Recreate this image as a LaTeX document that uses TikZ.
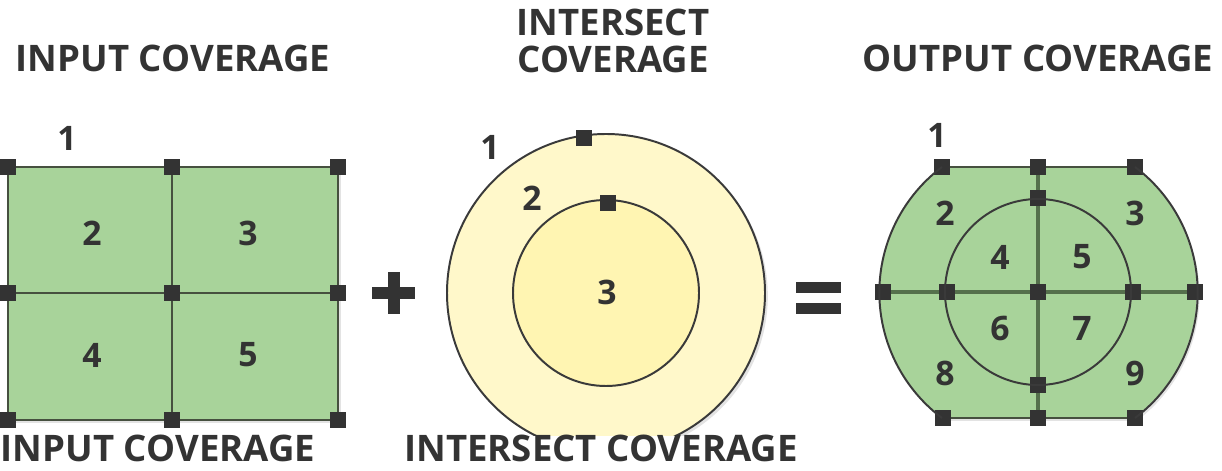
\documentclass[tikz,border=0pt]{standalone}
\usepackage{fontspec}
\setmainfont{Open Sans}
\usetikzlibrary{shadows}

\definecolor{polygreen}{HTML}{A8D39A}
\definecolor{ringyellow}{HTML}{FFF8CA}
\definecolor{coreyellow}{HTML}{FFF5B2}
\definecolor{inkgray}{HTML}{333333}
\definecolor{arcgray}{HTML}{3A3A3A}
\definecolor{gridgray}{HTML}{46503F}
\definecolor{crossgreen}{HTML}{55704C}

\tikzset{
  vtx/.style={inner sep=0, minimum size=0.39cm, rectangle, fill=inkgray},
  edge/.style={draw=gridgray, line width=2pt},
  ring/.style={draw=arcgray, line width=1.4pt},
  cross/.style={draw=crossgreen, line width=2.4pt},
  opbar/.style={draw=inkgray, line width=0.3cm},
  num/.style={font=\bfseries\fontsize{24}{24}\selectfont, text=inkgray},
  title/.style={font=\bfseries\fontsize{26}{26}\selectfont, text=inkgray, anchor=base, inner sep=0},
  shade/.style={drop shadow={opacity=0.22, shadow xshift=2pt, shadow yshift=-2pt}},
}

\begin{document}
\begin{tikzpicture}[x=0.025cm, y=-0.025cm]
  \useasboundingbox (0,0) rectangle (1222,471);

  % input coverage: 2x2 grid of polygons
  \fill[polygreen, shade] (8,167) rectangle (338,420);
  \foreach \x/\c in {8/1,172/2,338/3}
    \foreach \y/\r in {167/1,293/2,420/3}
      \node[vtx] (in-\c\r) at (\x,\y) {};
  \foreach \r in {1,2,3}
    \draw[edge] (in-1\r) -- (in-2\r) -- (in-3\r);
  \foreach \c in {1,2,3}
    \draw[edge] (in-\c1) -- (in-\c2) -- (in-\c3);

  \node[num] (in-l1) at (67,138) {1};
  \node[num] (in-l2) at (92,233) {2};
  \node[num] (in-l3) at (248,233) {3};
  \node[num] (in-l4) at (92,355) {4};
  \node[num] (in-l5) at (248,355) {5};

  % plus sign
  \draw[opbar] (372,293) -- (415,293);
  \draw[opbar] (393.5,272) -- (393.5,314);

  % intersect coverage: two rings
  \fill[ringyellow, shade] (606,293) circle[radius=159];
  \draw[ring] (606,293) circle[radius=159];
  \fill[coreyellow] (606,293) circle[radius=93];
  \draw[ring] (606,293) circle[radius=93];
  \node[vtx] (is-out) at (584,138) {};
  \node[vtx] (is-in) at (608,203) {};

  \node[num] (is-l1) at (490,147) {1};
  \node[num] (is-l2) at (532,198) {2};
  \node[num] (is-l3) at (607,292) {3};

  % equals sign
  \draw[opbar, line width=0.27cm] (796,287.5) -- (841,287.5);
  \draw[opbar, line width=0.27cm] (796,308.5) -- (841,308.5);

  % output coverage: clipped circle, split by the cross
  \fill[polygreen, shade] (942,167) arc[start angle=233.07, end angle=126.93, radius=157]
    -- (1134,418) arc[start angle=53.07, end angle=-53.07, radius=157] -- cycle;

  \node[vtx] (ot-l) at (942,167) {};
  \node[vtx] (ot-m) at (1038,167) {};
  \node[vtx] (ot-r) at (1135,167) {};
  \node[vtx] (oi-t) at (1038,198) {};
  \node[vtx] (om-1) at (883,292) {};
  \node[vtx] (om-2) at (947,292) {};
  \node[vtx] (om-3) at (1038,292) {};
  \node[vtx] (om-4) at (1133,292) {};
  \node[vtx] (om-5) at (1195,292) {};
  \node[vtx] (oi-b) at (1038,385) {};
  \node[vtx] (ob-l) at (943,418) {};
  \node[vtx] (ob-m) at (1038,418) {};
  \node[vtx] (ob-r) at (1135,418) {};

  \draw[ring] (ot-l.center) arc[start angle=233.07, end angle=126.93, radius=157];
  \draw[ring] (ob-r.center) arc[start angle=53.07, end angle=-53.07, radius=157];
  \draw[ring] (1038,292) circle[radius=93];
  \draw[edge] (ot-l) -- (ot-m) -- (ot-r);
  \draw[edge] (ob-l) -- (ob-m) -- (ob-r);
  \draw[cross] (ot-m) -- (oi-t) -- (om-3) -- (oi-b) -- (ob-m);
  \draw[cross] (om-1) -- (om-2) -- (om-3) -- (om-4) -- (om-5);

  \node[num] (out-l1) at (937,135) {1};
  \node[num] (out-l2) at (945,213) {2};
  \node[num] (out-l3) at (1135,213) {3};
  \node[num] (out-l4) at (1000,257) {4};
  \node[num] (out-l5) at (1082,257) {5};
  \node[num] (out-l6) at (1000,328) {6};
  \node[num] (out-l7) at (1082,328) {7};
  \node[num] (out-l8) at (945,373) {8};
  \node[num] (out-l9) at (1135,373) {9};

  % titles
  \fill[white] (0,436) rectangle (1222,471);
  \node[title] (t-in) at (173,72) {INPUT COVERAGE};
  \node[title] (t-is1) at (613,36) {INTERSECT};
  \node[title] (t-is2) at (613,73) {COVERAGE};
  \node[title] (t-out) at (1038,72) {OUTPUT COVERAGE};
  \node[title] (b-in) at (158,461) {INPUT COVERAGE};
  \node[title] (b-is) at (601,461) {INTERSECT COVERAGE};
\end{tikzpicture}
\end{document}
